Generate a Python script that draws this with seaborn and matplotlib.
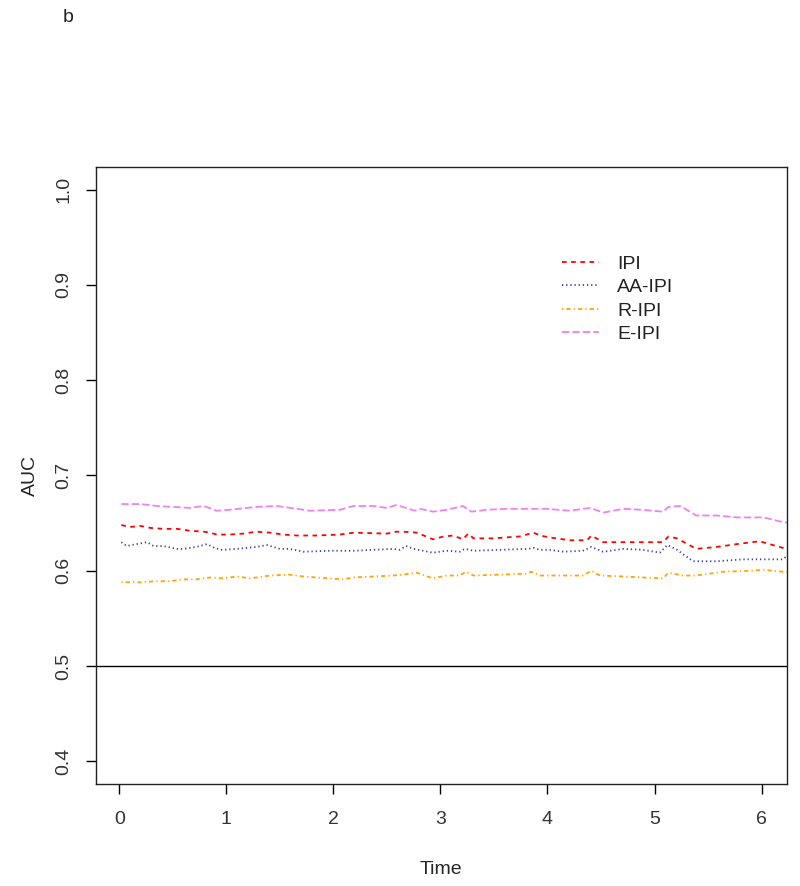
import numpy as np
import pandas as pd
import matplotlib
matplotlib.use("Agg")
import matplotlib.pyplot as plt
import seaborn as sns

# time-dependent AUC curves
IPI_TIME = [0.02, 0.10, 0.20, 0.29, 0.41, 0.54, 0.66, 0.79, 0.85, 0.91, 1.03, 1.16,
            1.28, 1.41, 1.53, 1.66, 1.84, 2.06, 2.19, 2.50, 2.59, 2.65, 2.78, 2.93,
            3.03, 3.12, 3.21, 3.26, 3.31, 3.49, 3.74, 3.87, 3.93, 4.02, 4.21, 4.37,
            4.41, 4.52, 4.71, 5.08, 5.13, 5.21, 5.39, 5.58, 5.77, 5.98, 6.20, 6.30]
IPI_AUC = [0.648, 0.646, 0.647, 0.645, 0.644, 0.644, 0.642, 0.641, 0.640, 0.638, 0.638, 0.639,
           0.641, 0.640, 0.638, 0.637, 0.637, 0.638, 0.640, 0.639, 0.641, 0.641, 0.640, 0.633,
           0.636, 0.637, 0.633, 0.639, 0.634, 0.634, 0.636, 0.640, 0.637, 0.635, 0.632, 0.632,
           0.637, 0.630, 0.630, 0.630, 0.636, 0.634, 0.623, 0.625, 0.628, 0.631, 0.624, 0.622]

AA_TIME = [0.02, 0.07, 0.16, 0.26, 0.32, 0.41, 0.54, 0.60, 0.72, 0.82, 0.89, 0.96,
           1.10, 1.28, 1.38, 1.50, 1.59, 1.72, 1.97, 2.19, 2.37, 2.56, 2.62, 2.68,
           2.75, 2.93, 3.06, 3.18, 3.23, 3.31, 3.56, 3.81, 3.87, 3.93, 4.02, 4.15,
           4.33, 4.41, 4.52, 4.71, 4.89, 5.05, 5.12, 5.21, 5.36, 5.58, 5.83, 6.20, 6.23, 6.30]
AA_AUC = [0.630, 0.626, 0.628, 0.630, 0.626, 0.626, 0.623, 0.623, 0.625, 0.628, 0.624, 0.622,
          0.623, 0.625, 0.627, 0.623, 0.623, 0.620, 0.621, 0.621, 0.622, 0.623, 0.622, 0.626,
          0.623, 0.619, 0.621, 0.620, 0.623, 0.621, 0.622, 0.623, 0.624, 0.622, 0.622, 0.620,
          0.621, 0.625, 0.620, 0.623, 0.622, 0.619, 0.627, 0.622, 0.610, 0.610, 0.612, 0.612, 0.615, 0.615]

R_TIME = [0.02, 0.20, 0.35, 0.47, 0.60, 0.72, 0.85, 0.97, 1.10, 1.22, 1.41, 1.59,
          1.72, 1.84, 2.09, 2.19, 2.37, 2.56, 2.65, 2.78, 2.93, 3.06, 3.18, 3.24,
          3.31, 3.56, 3.81, 3.85, 3.93, 4.02, 4.33, 4.41, 4.49, 4.71, 4.89, 5.08,
          5.13, 5.27, 5.39, 5.64, 5.89, 6.02, 6.20, 6.30]
R_AUC = [0.588, 0.588, 0.589, 0.589, 0.591, 0.591, 0.593, 0.592, 0.594, 0.592, 0.595, 0.596,
         0.594, 0.593, 0.591, 0.593, 0.594, 0.595, 0.596, 0.598, 0.592, 0.595, 0.595, 0.599,
         0.595, 0.596, 0.597, 0.599, 0.595, 0.595, 0.595, 0.600, 0.595, 0.594, 0.593, 0.592,
         0.598, 0.595, 0.595, 0.599, 0.600, 0.601, 0.599, 0.599]

E_TIME = [0.02, 0.20, 0.35, 0.50, 0.66, 0.79, 0.91, 1.03, 1.28, 1.47, 1.66, 1.78,
          2.06, 2.19, 2.37, 2.50, 2.59, 2.68, 2.76, 2.81, 2.93, 3.06, 3.21, 3.29,
          3.43, 3.62, 3.81, 3.99, 4.21, 4.40, 4.52, 4.71, 4.89, 5.08, 5.13, 5.24,
          5.39, 5.58, 5.77, 6.02, 6.20, 6.30]
E_AUC = [0.670, 0.670, 0.668, 0.667, 0.666, 0.668, 0.663, 0.664, 0.667, 0.668, 0.665, 0.663,
         0.664, 0.668, 0.668, 0.666, 0.669, 0.666, 0.663, 0.665, 0.662, 0.664, 0.668, 0.662,
         0.664, 0.665, 0.665, 0.665, 0.663, 0.666, 0.661, 0.665, 0.664, 0.662, 0.667, 0.668,
         0.658, 0.658, 0.656, 0.656, 0.651, 0.650]

SERIES = ["IPI", "AA-IPI", "R-IPI", "E-IPI"]
COLORS = ["#FF0000", "#3a3aa8", "#FFA500", "#EE82EE"]
# R lty 2, 3, 4, 5 expressed in points (1 unit = 0.75 pt)
DASHES = [(3.3, 3.3), (0.9, 2.1), (0.9, 2.25, 3.0, 2.25), (5.25, 2.25)]

X_TICKS = [0, 1, 2, 3, 4, 5, 6]
Y_TICKS = [0.4, 0.5, 0.6, 0.7, 0.8, 0.9, 1.0]

sns.set_style("ticks")
plt.rcParams.update({
    "font.family": ["Liberation Sans", "DejaVu Sans"],
    "axes.edgecolor": "black",
    "axes.linewidth": 1.0,
    "xtick.color": "#333333",
    "ytick.color": "#333333",
    "text.color": "#222222",
    "lines.scale_dashes": False,
})

fig = plt.figure(figsize=(8, 8.86), dpi=100)
ax = fig.add_axes([0.12, 0.1148, 0.8634, 0.6971])

times = [IPI_TIME, AA_TIME, R_TIME, E_TIME]
aucs = [IPI_AUC, AA_AUC, R_AUC, E_AUC]
for name, t, a, c, d in zip(SERIES, times, aucs, COLORS, DASHES):
    df = pd.DataFrame({"Time": t, "AUC": a})
    sns.lineplot(data=df, x="Time", y="AUC", ax=ax, color=c, linewidth=1.3,
                 dashes=False, estimator=None, label=name)
    ax.lines[-1].set_dashes(d)

ax.axhline(0.5, color="black", linewidth=1.0)

ax.set_xlim(-0.217, 6.235)
ax.set_ylim(0.376, 1.024)
ax.set_xticks(X_TICKS)
ax.set_xticklabels([str(v) for v in X_TICKS])
ax.set_yticks(Y_TICKS)
ax.set_yticklabels([f"{v:.1f}" for v in Y_TICKS], rotation=90, va="center")
ax.tick_params(axis="both", length=7, width=1.0, labelsize=14, color="black")
ax.tick_params(axis="x", pad=12)
ax.tick_params(axis="y", pad=10)
for s in ax.spines.values():
    s.set_visible(True)
    s.set_color("#222222")

ax.set_xlabel("Time", fontsize=14)
ax.set_ylabel("AUC", fontsize=14)
ax.xaxis.set_label_coords(0.5, -0.125)
ax.yaxis.set_label_coords(-0.083, 0.5)

leg = ax.legend(loc="upper left", bbox_to_anchor=(0.65, 0.885), frameon=False,
                fontsize=14, handlelength=1.9, handletextpad=0.9, labelspacing=0.3)
for h, d in zip(leg.get_lines(), DASHES):
    h.set_dashes(d)

fig.text(68 / 800, 1 - 18 / 886, "b", ha="center", va="center", fontsize=14)

fig.savefig("out.png", dpi=100, facecolor="white")
